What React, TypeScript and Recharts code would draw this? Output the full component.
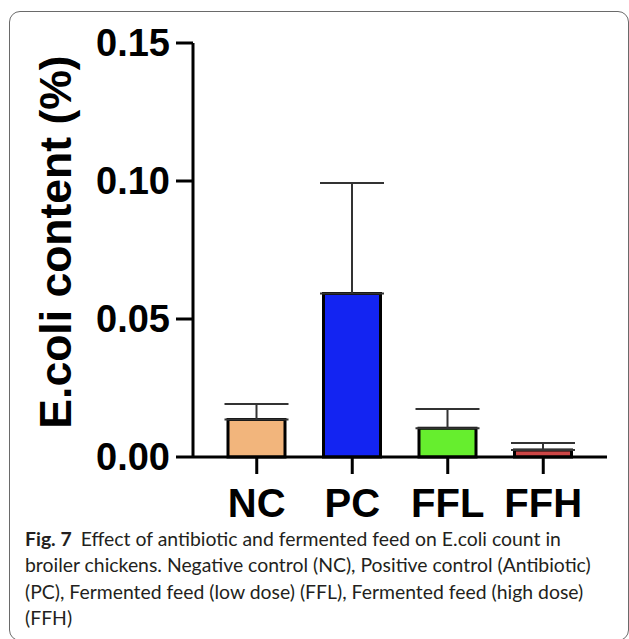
import React from 'react';
import { BarChart, Bar, XAxis, YAxis, ErrorBar, Cell, Label } from 'recharts';

// E. coli content per treatment group (mean and upper SD)
const groups = ['NC', 'PC', 'FFL', 'FFH'];
const means = [0.0136, 0.0592, 0.0104, 0.0025];
const sds = [0.0056, 0.0401, 0.0070, 0.0026];
const fills = ['#F2B57C', '#1324F2', '#66EE2E', '#CC4646'];
const yTicks = [0, 0.05, 0.1, 0.15];

const captionLines = [
  'Effect of antibiotic and fermented feed on E.coli count in',
  'broiler chickens. Negative control (NC), Positive control (Antibiotic)',
  '(PC), Fermented feed (low dose) (FFL), Fermented feed (high dose)',
  '(FFH)',
];

const data = groups.map((name, i) => ({
  name,
  value: means[i],
  // one-sided error bar: only the upper whisker is drawn
  err: [0, sds[i]],
}));

const AXIS = { stroke: '#000', strokeWidth: 3 };

function YTitle() {
  return (
    <text
      x={55}
      y={242}
      transform="rotate(-90 55 242)"
      textAnchor="middle"
      dominantBaseline="central"
      fontSize={44.5}
      fontWeight="bold"
      fontFamily="'Liberation Sans', Arial, sans-serif"
      fill="#000"
    >
      E.coli content (%)
    </text>
  );
}

export default function App() {
  return (
    <div
      style={{
        position: 'fixed',
        left: 0,
        top: 0,
        width: 629,
        height: 639,
        overflow: 'hidden',
        background: '#fff',
      }}
    >
      <div
        style={{
          position: 'absolute',
          left: 9,
          top: 11,
          width: 620,
          height: 630,
          boxSizing: 'border-box',
          border: '1.5px solid #6a6a6a',
          borderRadius: 11,
        }}
      />
      <div style={{ position: 'absolute', left: 0, top: 0 }}>
        <BarChart
          width={629}
          height={530}
          data={data}
          margin={{ top: 43, right: 22, bottom: 0, left: 0 }}
          style={{ fontFamily: "'Liberation Sans', Arial, sans-serif" }}
        >
          <XAxis
            dataKey="name"
            height={73}
            padding={{ left: 16, right: 16 }}
            axisLine={AXIS}
            tickLine={AXIS}
            tickSize={17}
            tickMargin={15}
            tick={{ fontSize: 40, fontWeight: 'bold', fill: '#000' }}
          />
          <YAxis
            width={193}
            domain={[0, 0.15]}
            ticks={yTicks}
            interval={0}
            axisLine={AXIS}
            tickLine={AXIS}
            tickSize={17}
            tickMargin={6}
            tickFormatter={(v: number) => v.toFixed(2)}
            tick={{ fontSize: 38, fontWeight: 'bold', fill: '#000' }}
          >
            <Label content={<YTitle />} />
          </YAxis>
          <Bar
            dataKey="value"
            barSize={57}
            stroke="#000"
            strokeWidth={3}
            isAnimationActive={false}
          >
            {data.map((d, i) => (
              <Cell key={d.name} fill={fills[i]} />
            ))}
            <ErrorBar
              dataKey="err"
              direction="y"
              width={32}
              stroke="#333"
              strokeWidth={2}
              isAnimationActive={false}
            />
          </Bar>
        </BarChart>
      </div>
      <div
        style={{
          position: 'absolute',
          left: 25,
          top: 526,
          fontFamily: 'Lato, sans-serif',
          fontSize: 19.4,
          lineHeight: '26.3px',
          color: '#231f20',
          whiteSpace: 'nowrap',
        }}
      >
        {captionLines.map((line, i) => (
          <div key={i}>
            {i === 0 && (
              <span style={{ fontWeight: 'bold', marginRight: 9 }}>Fig. 7</span>
            )}
            {line}
          </div>
        ))}
      </div>
    </div>
  );
}
